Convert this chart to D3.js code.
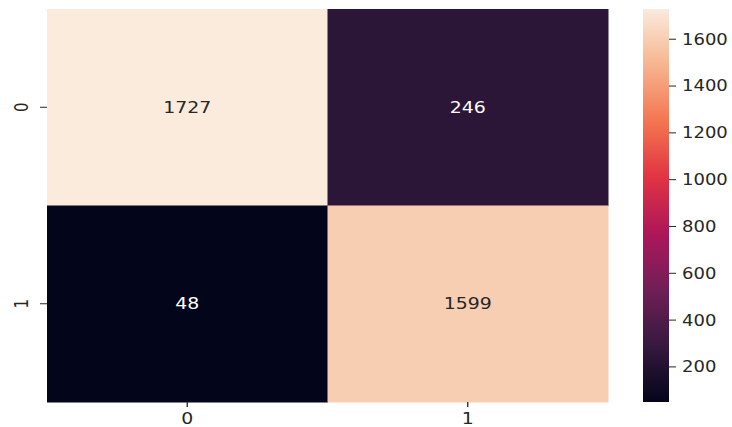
<!DOCTYPE html>
<html>
<head>
<meta charset="utf-8">
<script src="https://cdn.jsdelivr.net/npm/d3@7"></script>
<style>
  html, body { margin: 0; padding: 0; background: #fff; }
  svg { display: block; }
  text { font-family: "DejaVu Sans", sans-serif; }
</style>
</head>
<body>
<svg id="chart" width="732" height="427"></svg>
<script>
// ---- data ----
const rowLabels = ["0", "1"];
const colLabels = ["0", "1"];
const row0 = [1727, 246];
const row1 = [48, 1599];
const colorbarTicks = [200, 400, 600, 800, 1000, 1200, 1400, 1600];
// seaborn "rocket" colormap anchors
const rocketStops = ["#03051a", "#35193e", "#701f57", "#ad1759", "#e13342", "#f37651", "#f6b48f", "#faebdd"];

(function () {
const matrix = [row0, row1];
const cells = [];
matrix.forEach((r, i) => r.forEach((v, j) => cells.push({ row: rowLabels[i], col: colLabels[j], value: v })));

const SX = 1.26;      // horizontal text stretch of the reference
const FS = 15;
const TXT = "#262626";

const svg = d3.select("#chart");
const mLeft = 47, mRight = 608, mTop = 9, mBottom = 402;

const x = d3.scaleBand().domain(colLabels).range([mLeft, mRight]).padding(0);
const y = d3.scaleBand().domain(rowLabels).range([mTop, mBottom]).padding(0);

const allVals = cells.map(d => d.value);
const vmin = d3.min(allVals), vmax = d3.max(allVals);
const interp = d3.piecewise(d3.interpolateRgb, rocketStops);
const color = d3.scaleSequential(interp).domain([vmin, vmax]);

// cells
svg.append("g").selectAll("rect").data(cells).join("rect")
  .attr("x", d => x(d.col))
  .attr("y", d => y(d.row))
  .attr("width", x.bandwidth() + 0.5)
  .attr("height", y.bandwidth() + 0.5)
  .attr("fill", d => color(d.value));

// annotations
const lum = c => { const r = d3.rgb(c); return (0.2126 * r.r + 0.7152 * r.g + 0.0722 * r.b) / 255; };
svg.append("g").selectAll("g").data(cells).join("g")
  .attr("transform", d => `translate(${x(d.col) + x.bandwidth() / 2},${y(d.row) + y.bandwidth() / 2})`)
  .append("text")
  .attr("transform", `scale(${SX},1)`)
  .attr("text-anchor", "middle")
  .attr("dy", "0.36em")
  .attr("font-size", FS)
  .attr("fill", d => lum(color(d.value)) > 0.408 ? TXT : "#ffffff")
  .text(d => d.value);

// x axis
const xAxis = svg.append("g").attr("transform", `translate(0,${mBottom})`)
  .call(d3.axisBottom(x).tickSize(5).tickPadding(0));
xAxis.select(".domain").remove();
xAxis.selectAll(".tick line").attr("stroke", TXT).attr("stroke-width", 1.3);
xAxis.selectAll(".tick text")
  .attr("y", 22).attr("dy", null)
  .attr("transform", `scale(${SX},1)`)
  .attr("font-size", FS).attr("fill", TXT);

// y axis
const yAxis = svg.append("g").attr("transform", `translate(${mLeft},0)`)
  .call(d3.axisLeft(y).tickSize(7).tickPadding(0));
yAxis.select(".domain").remove();
yAxis.selectAll(".tick line").attr("stroke", TXT).attr("stroke-width", 1);
yAxis.selectAll(".tick text")
  .attr("x", null)
  .attr("text-anchor", "middle")
  .attr("transform", `translate(-25.5,0) scale(${SX},1) rotate(-90)`)
  .attr("dy", "0.36em")
  .attr("font-size", FS).attr("fill", TXT);

// colorbar
const cbLeft = 643, cbWidth = 26;
const cbScale = d3.scaleLinear().domain([vmin, vmax]).range([mBottom, mTop]);
const defs = svg.append("defs");
const grad = defs.append("linearGradient").attr("id", "cbgrad")
  .attr("x1", 0).attr("y1", 1).attr("x2", 0).attr("y2", 0);
d3.range(0, 1.0001, 0.02).forEach(t => {
  grad.append("stop").attr("offset", t).attr("stop-color", color(vmin + t * (vmax - vmin)));
});
svg.append("rect")
  .attr("x", cbLeft).attr("y", cbScale(vmax))
  .attr("width", cbWidth).attr("height", cbScale(vmin) - cbScale(vmax))
  .attr("fill", "url(#cbgrad)");

const cbAxis = svg.append("g").attr("transform", `translate(${cbLeft + cbWidth},0)`)
  .call(d3.axisRight(cbScale).tickValues(colorbarTicks).tickFormat(d3.format("d")).tickSize(7).tickPadding(0));
cbAxis.select(".domain").remove();
cbAxis.selectAll(".tick line").attr("stroke", TXT).attr("stroke-width", 1);
cbAxis.selectAll(".tick text")
  .attr("x", null)
  .attr("transform", `translate(13,0) scale(1.2,1)`)
  .attr("dy", "0.36em")
  .attr("font-size", FS).attr("fill", TXT);
})();
</script>
</body>
</html>
